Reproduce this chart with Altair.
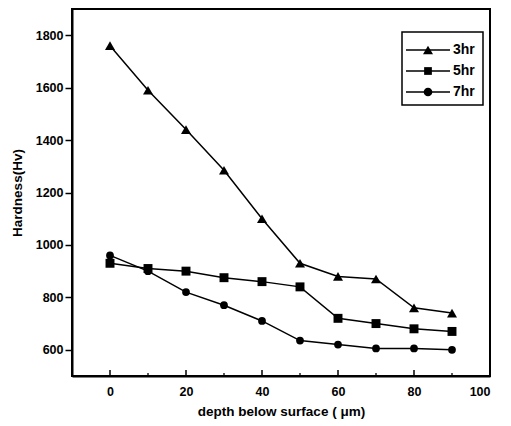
import altair as alt
import pandas as pd

# ---- data ----
depth = [0, 10, 20, 30, 40, 50, 60, 70, 80, 90]
hv_3hr = [1760, 1590, 1440, 1285, 1100, 930, 880, 870, 760, 740]
hv_5hr = [930, 910, 900, 875, 860, 840, 720, 700, 680, 670]
hv_7hr = [960, 900, 820, 770, 710, 635, 620, 605, 605, 600]
series = ["3hr", "5hr", "7hr"]
shapes = ["triangle-up", "square", "circle"]
sizes = [100, 60, 75]
x_major = [0, 20, 40, 60, 80, 100]
x_minor = [10, 30, 50, 70, 90]
y_ticks = [600, 700, 800, 900, 1000, 1100, 1200, 1300, 1400, 1500, 1600, 1700, 1800]

W, H = 418, 367
FONT = "Liberation Sans"

rows = []
for name, vals in zip(series, [hv_3hr, hv_5hr, hv_7hr]):
    for d, v in zip(depth, vals):
        rows.append({"depth": d, "hv": v, "series": name})
df = pd.DataFrame(rows)

xscale = alt.Scale(domain=[-10, 100], nice=False, zero=False)
yscale = alt.Scale(domain=[500, 1900], nice=False, zero=False)

xaxis = alt.Axis(
    values=x_major, ticks=False, labelPadding=9, labelFontSize=12.5,
    labelFontWeight="bold", labelFont=FONT, labelColor="black",
    title="depth below surface ( \u03bcm)", titleFontSize=13.5, titleFont=FONT,
    titleFontWeight="bold", titleColor="black", titlePadding=7,
    domainColor="black", domainWidth=2, grid=False,
)
yaxis = alt.Axis(
    values=y_ticks, labelExpr="datum.value % 200 === 0 ? datum.label : ''",
    tickSize={"condition": {"test": "datum.value % 200 === 0", "value": 7}, "value": 4},
    tickColor="black", tickWidth=1.5, labelPadding=2, labelFontSize=12.5,
    labelFontWeight="bold", labelFont=FONT, labelColor="black", format="d",
    title="Hardness(Hv)", titleFontSize=13.5, titleFont=FONT, titleFontWeight="bold",
    titleColor="black", titlePadding=11, domainColor="black", domainWidth=2, grid=False,
)

base = alt.Chart(df)
lines = base.mark_line(color="black", strokeWidth=1.5).encode(
    x=alt.X("depth:Q", scale=xscale, axis=xaxis),
    y=alt.Y("hv:Q", scale=yscale, axis=yaxis),
    detail="series:N",
)
points = base.mark_point(filled=True, color="black", opacity=1).encode(
    x=alt.X("depth:Q", scale=xscale),
    y=alt.Y("hv:Q", scale=yscale),
    shape=alt.Shape("series:N", scale=alt.Scale(domain=series, range=shapes), legend=None),
    size=alt.Size("series:N", scale=alt.Scale(domain=series, range=sizes), legend=None),
)

maj = alt.Chart(pd.DataFrame({"t": x_major})).mark_rule(color="black", strokeWidth=1.5).encode(
    x=alt.X("t:Q", scale=xscale), y=alt.value(H), y2=alt.value(H - 6)
)
mnr = alt.Chart(pd.DataFrame({"t": x_minor})).mark_rule(color="black", strokeWidth=1.3).encode(
    x=alt.X("t:Q", scale=xscale), y=alt.value(H), y2=alt.value(H - 3)
)

# legend box
legend_layers = [
    alt.Chart(pd.DataFrame({"s": ["box"]})).mark_rect(
        fill="white", stroke="black", strokeWidth=1.5
    ).encode(x=alt.value(330), x2=alt.value(411), y=alt.value(23), y2=alt.value(96))
]
row_y = [41, 62, 83]
for name, shp, sz, ry in zip(series, shapes, sizes, row_y):
    d = pd.DataFrame({"s": [name]})
    legend_layers.append(
        alt.Chart(d).mark_rule(color="black", strokeWidth=1.5).encode(
            x=alt.value(334), x2=alt.value(378), y=alt.value(ry)
        )
    )
    legend_layers.append(
        alt.Chart(d).mark_point(filled=True, color="black", opacity=1, shape=shp, size=sz).encode(
            x=alt.value(356), y=alt.value(ry)
        )
    )
    legend_layers.append(
        alt.Chart(d).mark_text(
            align="left", baseline="middle", font=FONT, fontSize=14, fontWeight="bold", color="black"
        ).encode(x=alt.value(381), y=alt.value(ry), text="s:N")
    )

chart = alt.layer(lines, points, maj, mnr, *legend_layers).properties(
    width=W, height=H,
    autosize=alt.AutoSizeParams(type="none"),
    padding={"left": 72, "top": 9, "right": 21, "bottom": 50},
    background="white",
).configure_view(stroke="black", strokeWidth=2)

chart.save("out.html", embed_options={"renderer": "svg", "actions": False})
